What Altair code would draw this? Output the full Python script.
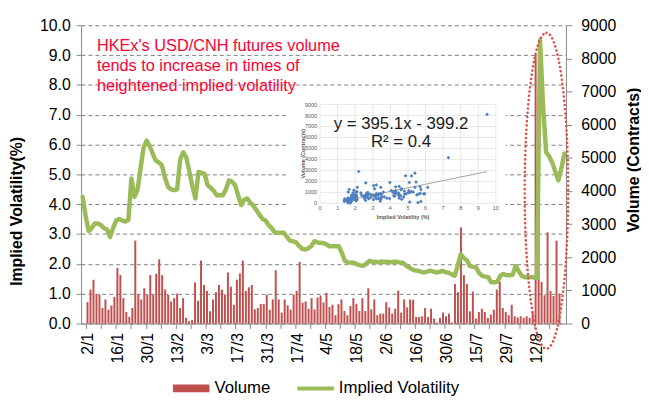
import altair as alt
import pandas as pd

# ---------------- data ----------------
iv = [4.25, 3.6, 3.1, 3.2, 3.35, 3.35, 3.3, 3.2, 3.15, 2.9,
      3.2, 3.45, 3.5, 3.45, 3.42, 3.47, 4.86, 4.25, 4.47, 5.2,
      5.9, 6.13, 5.95, 5.69, 5.46, 5.4, 5.3, 4.9, 4.58, 4.5,
      4.47, 4.5, 5.5, 5.74, 5.57, 5.1, 4.6, 4.19, 5.08, 5.05,
      5.02, 4.64, 4.55, 4.45, 4.3, 4.3, 4.3, 4.5, 4.8, 4.75,
      4.64, 4.3, 3.97, 4.15, 4.19, 4.05, 3.95, 3.8, 3.65, 3.5,
      3.45, 3.3, 3.2, 3.05, 3.04, 3.04, 3.04, 2.9, 2.78, 2.75,
      2.72, 2.6, 2.5, 2.48, 2.52, 2.6, 2.76, 2.72, 2.7, 2.7,
      2.65, 2.59, 2.59, 2.59, 2.59, 2.37, 2.1, 2.04, 2.04, 2.04,
      1.98, 1.95, 1.93, 2.0, 2.1, 2.07, 2.07, 2.05, 2.08, 2.06,
      2.07, 2.05, 2.07, 2.07, 2.05, 2.04, 1.95, 1.88, 1.82, 1.78,
      1.77, 1.73, 1.71, 1.74, 1.77, 1.74, 1.71, 1.73, 1.77, 1.72,
      1.7, 1.65, 1.6, 1.93, 2.32, 2.2, 2.12, 1.93, 1.9, 1.88,
      1.7, 1.6, 1.57, 1.55, 1.38, 1.38, 1.4, 1.6, 1.66, 1.62,
      1.62, 1.63, 1.93, 1.75, 1.6, 1.55, 1.55, 1.55, 1.55, 1.52,
      9.5, 7.3, 5.74, 5.6, 5.4, 5.1, 4.8, 5.2, 5.7]

vol = [645, 1023, 1320, 874, 874, 467, 725, 417, 546, 804,
       1678, 1460, 765, 348, 199, 467, 2502, 874, 725, 1063,
       864, 1460, 864, 1500, 1936, 1460, 1023, 864, 665, 765,
       904, 467, 765, 169, 70, 109, 1241, 685, 1897, 1162,
       983, 367, 725, 943, 1162, 1023, 874, 1539, 1112, 566,
       1320, 1509, 1897, 983,
       1092, 1162, 427, 467, 586, 586, 874, 417, 725, 1609,
       725, 328, 725, 546, 417, 874, 983, 1857, 626, 665,
       447, 765, 427, 784, 844, 635, 923, 497, 566, 248,
       586, 725, 377, 248, 526, 765, 596, 377, 765, 377,
       1063, 427, 725, 248, 298, 298, 645, 487, 298, 447,
       993, 328, 725, 487, 725,
       715, 199, 199, 218, 467, 199, 447, 149, 30, 169,
       328, 218, 298, 30, 1192, 943, 2900, 1460, 1192, 367,
       963, 149, 348, 447, 348, 169, 268, 417, 1023, 1261,
       467, 348, 248, 566, 218, 179, 218, 169, 218, 169,
       348, 8100, 4170, 1250, 850, 2750, 980, 830, 2500, 900]

x_labels = ["2/1", "16/1", "30/1", "13/2", "3/3", "17/3", "31/3", "17/4",
            "4/5", "18/5", "2/6", "16/6", "30/6", "15/7", "29/7", "12/8"]
note_lines = ["HKEx's USD/CNH futures volume",
              "tends to increase in times of",
              "heightened implied volatility"]
eq_lines = ["y = 395.1x - 399.2", "R\u00b2 = 0.4"]
inset_x_ticks = list(range(0, 11))
inset_y_ticks = list(range(0, 9001, 1000))
legend_items = ["Volume", "Implied Volatility"]

# ---------------- layout ----------------
N = len(iv)
W, H = 491, 302
RED, GREEN, BLUE = "#C0504D", "#9BBB59", "#4F81BD"
AX = "#868686"
FONT = "Liberation Sans"

df = pd.DataFrame({"idx": [i + 0.5 for i in range(N)], "iv": iv, "vol": vol})

xs = alt.Scale(domain=[0, N], nice=False, zero=False)
arr = "[" + ",".join("'" + s + "'" for s in x_labels) + "]"
label_expr = "datum.value % 10 === 0 ? " + arr + "[datum.value / 10] : ''"

bars = alt.Chart(df).mark_bar(color=RED, size=2).encode(
    x=alt.X("idx:Q", scale=xs, axis=alt.Axis(
        values=list(range(0, N, 5)), labelExpr=label_expr, title=None,
        labelAngle=270, labelFontSize=16, labelPadding=4, labelOffset=2,
        tickSize=5, grid=False, labelOverlap=False, labelFlush=False,
        labelBound=False)),
    y=alt.Y("vol:Q", scale=alt.Scale(domain=[0, 9000], nice=False), axis=alt.Axis(
        orient="right", values=list(range(0, 9001, 1000)), format="d",
        title="Volume (Contracts)", titleFontSize=16, titleFontWeight="bold",
        titleAngle=270, titleX=68, titleY=136, titleBaseline="middle",
        titleAlign="center", labelFontSize=16, labelPadding=9, tickSize=6,
        grid=False)),
)

line = alt.Chart(df).mark_line(color=GREEN, strokeWidth=4.5, strokeJoin="round",
                               strokeCap="round").encode(
    x=alt.X("idx:Q", scale=xs, axis=None),
    y=alt.Y("iv:Q", scale=alt.Scale(domain=[0, 10], nice=False), axis=alt.Axis(
        orient="left", values=list(range(0, 11)), format=".1f",
        title="Implied Volatility(%)", titleFontSize=16, titleFontWeight="bold",
        titleAngle=270, titleX=-65, titleY=188, titleBaseline="middle",
        titleAlign="center", labelFontSize=16, labelPadding=6, tickSize=5,
        grid=True, gridDash=[4, 3], gridColor="#7F7F7F", gridWidth=1)),
)

k = 0.5523
rx = 0.1375
ell_path = (f"M0,-1 C{k*rx:.4f},-1 {rx},{-k:.4f} {rx},0 "
            f"C{rx},{k:.4f} {k*rx:.4f},1 0,1 "
            f"C{-k*rx:.4f},1 {-rx},{k:.4f} {-rx},0 "
            f"C{-rx},{-k:.4f} {-k*rx:.4f},-1 0,-1 Z")
one = pd.DataFrame({"a": [0]})
ellipse = alt.Chart(one).mark_point(
    shape=ell_path, size=102400, filled=False, stroke="#D9534F", strokeWidth=2.6,
    strokeDash=[0.1, 4.2], strokeCap="round", opacity=1).encode(
    x=alt.X(datum=152.6, scale=xs, axis=None),
    y=alt.Y(datum=4.45, scale=alt.Scale(domain=[0, 10], nice=False), axis=None),
)

# ---------------- inset scatter ----------------
ixs = alt.Scale(domain=[0, 10], range=[242, 420], nice=False, zero=False)
iys = alt.Scale(domain=[0, 9000], range=[180.3, 80.3], nice=False)

box = alt.Chart(one).mark_rect(fill="white").encode(
    x=alt.value(210), x2=alt.value(430), y=alt.value(69), y2=alt.value(199))

gx_df = pd.DataFrame({"g": inset_x_ticks})
gy_df = pd.DataFrame({"g": inset_y_ticks})
vgrid = alt.Chart(gx_df).mark_rule(color="#D9D9D9", strokeWidth=0.6).encode(
    x=alt.X("g:Q", scale=ixs, axis=None),
    y=alt.Y(datum=0, scale=iys, axis=None), y2=alt.Y2(datum=9000))
hgrid = alt.Chart(gy_df).mark_rule(color="#D9D9D9", strokeWidth=0.6).encode(
    y=alt.Y("g:Q", scale=iys, axis=None),
    x=alt.X(datum=0, scale=ixs, axis=None), x2=alt.X2(datum=10))
ixl = alt.Chart(gx_df).mark_text(fontSize=5.5, color="#595959", baseline="top", dy=3).encode(
    x=alt.X("g:Q", scale=ixs, axis=None),
    y=alt.Y(datum=0, scale=iys, axis=None), text=alt.Text("g:Q", format="d"))
iyl = alt.Chart(gy_df).mark_text(fontSize=5.5, color="#595959", align="right",
                                 baseline="middle", dx=-3).encode(
    y=alt.Y("g:Q", scale=iys, axis=None),
    x=alt.X(datum=0, scale=ixs, axis=None), text=alt.Text("g:Q", format="d"))
ixt = alt.Chart(one).mark_text(fontSize=5.5, fontWeight="bold", color="#595959",
                               align="center", baseline="middle").encode(
    x=alt.value(326), y=alt.value(194), text=alt.value("Implied Volatility (%)"))
iyt = alt.Chart(one).mark_text(fontSize=5.5, fontWeight="bold", color="#595959",
                               align="center", baseline="middle", angle=270).encode(
    x=alt.value(225), y=alt.value(130), text=alt.value("Volume (Contracts)"))
scatter = alt.Chart(df).mark_point(filled=True, shape="diamond", size=14,
                                   color=BLUE, opacity=1).encode(
    x=alt.X("iv:Q", scale=ixs, axis=None),
    y=alt.Y("vol:Q", scale=iys, axis=None))
reg = alt.Chart(df).transform_regression("iv", "vol").mark_line(
    color="#8C8C8C", strokeWidth=0.8).encode(
    x=alt.X("iv:Q", scale=ixs, axis=None),
    y=alt.Y("vol:Q", scale=iys, axis=None))
eq = alt.Chart(one).mark_text(fontSize=17, color="#1A1A1A", align="center",
                              baseline="alphabetic", lineHeight=18).encode(
    x=alt.value(324), y=alt.value(105), text=alt.value(eq_lines))

note = alt.Chart(one).mark_text(fontSize=16.5, color="#FF0033", align="left",
                                baseline="alphabetic", lineHeight=20.5).encode(
    x=alt.value(16), y=alt.value(26), text=alt.value(note_lines))

# ---------------- legend ----------------
rect_path = "M-1,-0.21H1V0.21H-1Z"
stroke_path = "M-1,-0.11H1V0.11H-1Z"
leg_df = pd.DataFrame({"s": legend_items})
leg_opts = dict(title=None, orient="none", legendX=93, legendY=349,
                direction="horizontal", symbolSize=1369, symbolStrokeWidth=0,
                labelFontSize=17, labelOffset=5, columnPadding=27, padding=0,
                labelColor="black")
legend = alt.Chart(leg_df).mark_point(filled=True, opacity=1).encode(
    x=alt.value(-3000), y=alt.value(-3000),
    color=alt.Color("s:N", scale=alt.Scale(domain=legend_items, range=[RED, GREEN]),
                    legend=alt.Legend(**leg_opts)),
    shape=alt.Shape("s:N", scale=alt.Scale(domain=legend_items,
                                           range=[rect_path, stroke_path]),
                    legend=alt.Legend(**leg_opts)),
)

chart = alt.layer(
    bars, line, ellipse, box, vgrid, hgrid, ixl, iyl, ixt, iyt, reg, scatter, eq,
    note, legend
).resolve_scale(
    x="independent", y="independent"
).properties(
    width=W, height=H,
    autosize=alt.AutoSizeParams(type="none"),
    padding={"left": 74, "top": 15, "right": 76, "bottom": 75},
).configure(
    font=FONT
).configure_view(
    stroke=None
).configure_axis(
    labelColor="black", titleColor="black", domainColor=AX, tickColor=AX,
    labelFont=FONT, titleFont=FONT
).configure_legend(
    labelFont=FONT
)

chart.save("out.html", embed_options={"renderer": "svg", "actions": False})
